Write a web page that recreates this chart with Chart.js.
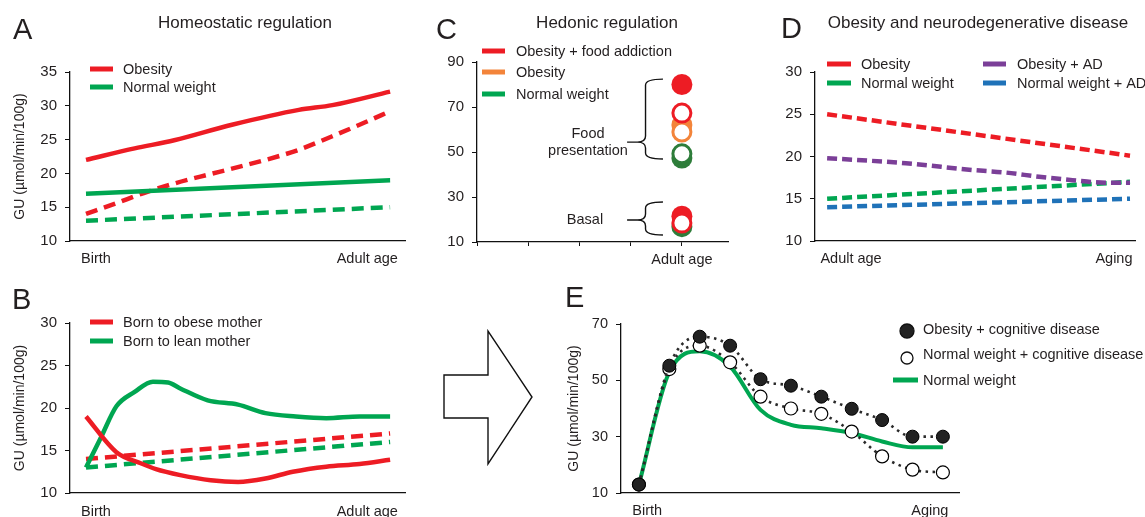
<!DOCTYPE html>
<html>
<head>
<meta charset="utf-8">
<script src="https://cdn.jsdelivr.net/npm/chart.js@4.4.1/dist/chart.umd.min.js"></script>
<style>
  body { margin: 0; background: #fff; font-family: 'Liberation Sans', Arial, sans-serif; color: #231f20; }
  #wrap { position: relative; width: 1145px; height: 517px; overflow: hidden; }
  canvas { position: absolute; }
  .letter { position: absolute; font-size: 29px; line-height: 1; }
  .title { position: absolute; font-size: 17px; line-height: 1; width: 360px; text-align: center; white-space: nowrap; }
  svg { position: absolute; left: 0; top: 0; }
</style>
</head>
<body>
<div id="wrap">
  <canvas id="chartA" width="410" height="270" style="left:0;top:0"></canvas>
  <canvas id="chartB" width="410" height="247" style="left:0;top:270px"></canvas>
  <canvas id="chartC" width="330" height="270" style="left:410px;top:0"></canvas>
  <canvas id="chartD" width="405" height="270" style="left:740px;top:0"></canvas>
  <canvas id="chartE" width="585" height="227" style="left:560px;top:290px"></canvas>

  <svg width="1145" height="517">
    <polygon points="444,375 488,375 488,331 532,397 488,464 488,418 444,418" fill="#fff" stroke="#111" stroke-width="1.4"/>
  </svg>

  <div class="letter" style="left:13px;top:15px">A</div>
  <div class="letter" style="left:12px;top:285px">B</div>
  <div class="letter" style="left:436px;top:15px">C</div>
  <div class="letter" style="left:781px;top:14px">D</div>
  <div class="letter" style="left:565px;top:283px">E</div>

  <div class="title" style="left:65px;top:14px">Homeostatic regulation</div>
  <div class="title" style="left:427px;top:14px">Hedonic regulation</div>
  <div class="title" style="left:798px;top:14px">Obesity and neurodegenerative disease</div>
</div>

<script>
// ---------- data ----------
// A: x 0 = birth, 1 = adult age
const aObesityX = [0, 0.16, 0.29, 0.48, 0.7, 0.81, 1];
const aObesityY = [22, 23.7, 24.9, 27.2, 29.4, 30.1, 32.1];
const aObesityDashX = [0, 0.1, 0.19, 0.29, 0.4, 0.48, 0.63, 0.7, 0.81, 0.92, 1];
const aObesityDashY = [14, 15.6, 17.1, 18.5, 19.8, 20.7, 22.5, 23.5, 25.5, 27.6, 29.2];
const aNormalX = [0, 1];
const aNormalY = [17, 19];
const aNormalDashY = [13, 15];
const abTickPos = [0.033, 0.925];
const abTickLabels = ['Birth', 'Adult age'];

// B
const bObeseMotherX = [0, 0.1, 0.18, 0.23, 0.31, 0.41, 0.5, 0.59, 0.68, 0.79, 0.9, 1];
const bObeseMotherY = [19, 14.8, 13.5, 12.8, 12.1, 11.5, 11.3, 11.7, 12.5, 13.1, 13.4, 13.9];
const bLeanMotherX = [0, 0.05, 0.1, 0.16, 0.22, 0.27, 0.31, 0.4, 0.5, 0.59, 0.69, 0.79, 0.9, 1];
const bLeanMotherY = [13, 16.6, 20.2, 21.9, 23.1, 23, 22.3, 20.9, 20.4, 19.4, 19, 18.8, 19, 19];
const bDashX = [0, 1];
const bObeseDashY = [14, 17];
const bLeanDashY = [13, 16];

// C: all markers sit at the "Adult age" position
const cTickPos = [0, 1, 2, 3, 4];
const cTickLabels = ['', '', '', '', 'Adult age'];
const cAdultAge = 4;
const cRedFilled = [80, 21.5];
const cRedHollow = [67.3, 18.4];
const cOrangeFilled = [62];
const cOrangeHollow = [58.9];
const cGreenFilled = [47.3, 16.8];
const cGreenHollow = [49.2];
const cFoodRange = [82.4, 54.4, 46.9];   // top, tip, bottom
const cBasalRange = [27.8, 19.8, 13.1];

// D: x 0 = adult age, 1 = aging
const dX = [0, 1];
const dObesityY = [25, 20.1];
const dNormalY = [15, 17];
const dObesityADX = [0, 0.26, 0.48, 0.59, 0.7, 0.81, 0.92, 1];
const dObesityADY = [19.8, 19.2, 18.4, 18.1, 17.6, 17.2, 16.9, 16.9];
const dNormalADY = [14, 15];
const dTickPos = [0.079, 0.947];
const dTickLabels = ['Adult age', 'Aging'];

// E: 11 time points from birth to aging
const eX = [0, 1, 2, 3, 4, 5, 6, 7, 8, 9, 10];
const eObesityCog = [13, 55.2, 65.5, 62.3, 50.4, 48.1, 44.2, 39.9, 35.9, 30, 30];
const eNormalCog = [13, 54, 62.3, 56.4, 44.2, 40, 38.1, 31.8, 23, 18.3, 17.3];
const eNormal = [13, 53, 60.3, 54.9, 39.5, 34.2, 33, 31.3, 28.3, 26.2, 26.2];
const eTickPos = [0.27, 9.57];
const eTickLabels = ['Birth', 'Aging'];

// ---------- colours ----------
const RED = '#ed1c24';
const GREEN = '#00a651';
const DARKGREEN = '#2e7d3a';
const ORANGE = '#f3843a';
const PURPLE = '#7b3f98';
const BLUE = '#1f72b8';
const INK = '#231f20';

Chart.defaults.font.family = "'Liberation Sans', Arial, sans-serif";
Chart.defaults.color = INK;
Chart.defaults.animation = false;
Chart.defaults.responsive = false;
Chart.defaults.devicePixelRatio = 1;
Chart.defaults.plugins.legend.display = false;
Chart.defaults.plugins.tooltip.enabled = false;

function pts(xs, ys) {
    return ys.map((y, i) => ({ x: xs[i], y: y }));
}

// legend drawn inside the plot, like the original figure
const miniLegend = {
    id: 'miniLegend',
    afterDraw(chart, args, opts) {
        if (!opts.items) return;
        const ctx = chart.ctx;
        ctx.save();
        ctx.font = opts.font;
        ctx.textBaseline = 'middle';
        opts.items.forEach(item => {
            if (item.kind === 'dot' || item.kind === 'ring') {
                ctx.beginPath();
                ctx.arc(item.x, item.my, item.r, 0, Math.PI * 2);
                ctx.fillStyle = item.kind === 'dot' ? '#222' : '#fff';
                ctx.fill();
                ctx.lineWidth = 1.3;
                ctx.strokeStyle = '#111';
                ctx.stroke();
            } else {
                ctx.beginPath();
                ctx.moveTo(item.x, item.y);
                ctx.lineTo(item.x + item.len, item.y);
                ctx.lineWidth = 5;
                ctx.strokeStyle = item.color;
                ctx.stroke();
            }
            ctx.fillStyle = INK;
            ctx.fillText(item.text, item.tx, item.y + 0.5);
        });
        ctx.restore();
    }
};

// curly braces of panel C
const braces = {
    id: 'braces',
    afterDraw(chart, args, opts) {
        if (!opts.items) return;
        const ctx = chart.ctx;
        const xs = chart.scales.x, ys = chart.scales.y;
        ctx.save();
        ctx.strokeStyle = '#111';
        ctx.lineWidth = 1.4;
        opts.items.forEach(b => {
            const top = ys.getPixelForValue(b.range[0]);
            const tip = ys.getPixelForValue(b.range[1]);
            const bot = ys.getPixelForValue(b.range[2]);
            const xv = xs.getPixelForValue(3.29);
            const xEnd = xs.getPixelForValue(3.63);
            const xTip = xs.getPixelForValue(2.93);
            ctx.beginPath();
            ctx.moveTo(xEnd, top);
            ctx.quadraticCurveTo(xv, top, xv, top + 6);
            ctx.lineTo(xv, tip - 6);
            ctx.quadraticCurveTo(xv, tip, xv - 8, tip);
            ctx.lineTo(xTip, tip);
            ctx.moveTo(xv - 8, tip);
            ctx.quadraticCurveTo(xv, tip, xv, tip + 6);
            ctx.lineTo(xv, bot - 6);
            ctx.quadraticCurveTo(xv, bot, xEnd, bot);
            ctx.stroke();
            ctx.fillStyle = INK;
            ctx.font = "14.5px 'Liberation Sans', Arial, sans-serif";
            ctx.textAlign = 'center';
            ctx.textBaseline = 'middle';
            b.label.forEach((line, i) => {
                ctx.fillText(line, b.labelX, tip - (b.label.length - 1) * 8.5 + i * 17);
            });
        });
        ctx.restore();
    }
};

Chart.register(miniLegend, braces);

// axes with fixed box sizes so every panel lands where it does in the figure
function makeScales(o) {
    return {
        x: {
            type: 'linear', min: o.xMin, max: o.xMax,
            afterBuildTicks: s => { s.ticks = o.xTicks.map(v => ({ value: v })); },
            afterFit: s => { s.height = o.xHeight; },
            ticks: {
                callback: (v, i) => o.xLabels[i],
                autoSkip: false, maxRotation: 0, padding: o.xPad,
                font: { size: o.xFont || 14.5 }, color: INK
            },
            grid: { drawOnChartArea: false, drawTicks: !!o.xTickMarks, tickLength: 4, tickColor: '#111' },
            border: { color: '#111', width: 1.3 }
        },
        y: {
            min: o.yMin, max: o.yMax,
            afterFit: s => { s.width = o.yWidth; },
            ticks: { stepSize: o.yStep, padding: 8, font: { size: o.yFont || 15 }, color: INK },
            grid: { drawOnChartArea: false, drawTicks: true, tickLength: 5, tickColor: '#111' },
            border: { color: '#111', width: 1.3 },
            title: {
                display: !!o.yTitle, text: o.yTitle,
                font: { size: 14 }, color: INK,
                padding: { top: o.yTitlePad || 0, bottom: 0 }
            }
        }
    };
}

function lineSet(data, color, dashed, extra) {
    return Object.assign({
        data: data,
        borderColor: color,
        borderWidth: 4.5,
        borderDash: dashed ? [12, 7] : [],
        pointRadius: 0,
        fill: false,
        clip: false,
        tension: 0.4,
        cubicInterpolationMode: 'monotone'
    }, extra || {});
}

// ---------- A ----------
new Chart(document.getElementById('chartA'), {
    type: 'line',
    data: {
        datasets: [
            lineSet(pts(aObesityX, aObesityY), RED, false),
            lineSet(pts(aNormalX, aNormalY), GREEN, false),
            lineSet(pts(aObesityDashX, aObesityDashY), RED, true),
            lineSet(pts(aNormalX, aNormalDashY), GREEN, true)
        ]
    },
    options: {
        layout: { padding: { left: 0, top: 72, right: 5, bottom: 0 } },
        scales: makeScales({
            xMin: -0.0526, xMax: 1.049, xTicks: abTickPos, xLabels: abTickLabels, xHeight: 29, xPad: 9,
            yMin: 10, yMax: 35, yStep: 5, yWidth: 70, yTitle: 'GU (µmol/min/100g)', yTitlePad: 11.6
        }),
        plugins: {
            miniLegend: {
                font: "14.5px 'Liberation Sans', Arial, sans-serif",
                items: [
                    { text: 'Obesity', color: RED, x: 90, len: 23, tx: 123, y: 69 },
                    { text: 'Normal weight', color: GREEN, x: 90, len: 23, tx: 123, y: 87 }
                ]
            }
        }
    }
});

// ---------- B ----------
new Chart(document.getElementById('chartB'), {
    type: 'line',
    data: {
        datasets: [
            lineSet(pts(bObeseMotherX, bObeseMotherY), RED, false),
            lineSet(pts(bLeanMotherX, bLeanMotherY), GREEN, false),
            lineSet(pts(bDashX, bObeseDashY), RED, true),
            lineSet(pts(bDashX, bLeanDashY), GREEN, true)
        ]
    },
    options: {
        layout: { padding: { left: 0, top: 53, right: 5, bottom: 0 } },
        scales: makeScales({
            xMin: -0.0526, xMax: 1.049, xTicks: abTickPos, xLabels: abTickLabels, xHeight: 24, xPad: 10,
            yMin: 10, yMax: 30, yStep: 5, yWidth: 70, yTitle: 'GU (µmol/min/100g)', yTitlePad: 11.6
        }),
        plugins: {
            miniLegend: {
                font: "14.5px 'Liberation Sans', Arial, sans-serif",
                items: [
                    { text: 'Born to obese mother', color: RED, x: 90, len: 23, tx: 123, y: 52 },
                    { text: 'Born to lean mother', color: GREEN, x: 90, len: 23, tx: 123, y: 71 }
                ]
            }
        }
    }
});

// ---------- C ----------
function markerSet(ys, color, hollow) {
    return {
        data: ys.map(y => ({ x: cAdultAge, y: y })),
        backgroundColor: hollow ? '#fff' : color,
        borderColor: color,
        borderWidth: hollow ? 3 : 0,
        pointRadius: hollow ? 9 : 10.5,
        clip: false
    };
}

new Chart(document.getElementById('chartC'), {
    type: 'scatter',
    data: {
        datasets: [
            markerSet(cRedHollow, RED, true),
            markerSet(cOrangeHollow, ORANGE, true),
            markerSet(cGreenHollow, DARKGREEN, true),
            markerSet(cRedFilled, RED, false),
            markerSet(cOrangeFilled, ORANGE, false),
            markerSet(cGreenFilled, DARKGREEN, false)
        ]
    },
    options: {
        layout: { padding: { left: 0, top: 62, right: 2, bottom: 0 } },
        scales: makeScales({
            xMin: 0, xMax: 4.9, xTicks: cTickPos, xLabels: cTickLabels, xHeight: 28, xPad: 5, xTickMarks: true,
            yMin: 10, yMax: 90, yStep: 20, yWidth: 67
        }),
        plugins: {
            miniLegend: {
                font: "14.5px 'Liberation Sans', Arial, sans-serif",
                items: [
                    { text: 'Obesity + food addiction', color: RED, x: 72, len: 23, tx: 106, y: 51 },
                    { text: 'Obesity', color: ORANGE, x: 72, len: 23, tx: 106, y: 72 },
                    { text: 'Normal weight', color: GREEN, x: 72, len: 23, tx: 106, y: 94 }
                ]
            },
            braces: {
                items: [
                    { range: cFoodRange, label: ['Food', 'presentation'], labelX: 178 },
                    { range: cBasalRange, label: ['Basal'], labelX: 175 }
                ]
            }
        }
    }
});

// ---------- D ----------
function dashD(data, color) {
    return lineSet(data, color, true, { borderDash: [10, 5], borderWidth: 4.5 });
}

new Chart(document.getElementById('chartD'), {
    type: 'line',
    data: {
        datasets: [
            dashD(pts(dX, dObesityY), RED),
            dashD(pts(dObesityADX, dObesityADY), PURPLE),
            dashD(pts(dX, dNormalY), GREEN),
            dashD(pts(dX, dNormalADY), BLUE)
        ]
    },
    options: {
        layout: { padding: { left: 0, top: 72, right: 10, bottom: 0 } },
        scales: makeScales({
            xMin: -0.04, xMax: 1.0165, xTicks: dTickPos, xLabels: dTickLabels, xHeight: 29, xPad: 9,
            yMin: 10, yMax: 30, yStep: 5, yWidth: 75
        }),
        plugins: {
            miniLegend: {
                font: "14.5px 'Liberation Sans', Arial, sans-serif",
                items: [
                    { text: 'Obesity', color: RED, x: 87, len: 24, tx: 121, y: 64 },
                    { text: 'Normal weight', color: GREEN, x: 87, len: 24, tx: 121, y: 83 },
                    { text: 'Obesity + AD', color: PURPLE, x: 243, len: 23, tx: 277, y: 64 },
                    { text: 'Normal weight + AD', color: BLUE, x: 243, len: 23, tx: 277, y: 83 }
                ]
            }
        }
    }
});

// ---------- E ----------
new Chart(document.getElementById('chartE'), {
    type: 'line',
    data: {
        datasets: [
            {
                data: pts(eX, eObesityCog),
                borderColor: '#2a2a2a', borderWidth: 2.6, borderDash: [2.5, 4.5],
                pointRadius: 6.5, pointBackgroundColor: '#222', pointBorderColor: '#000', pointBorderWidth: 1,
                tension: 0.35, cubicInterpolationMode: 'monotone', clip: false
            },
            {
                data: pts(eX, eNormalCog),
                borderColor: '#2a2a2a', borderWidth: 2.6, borderDash: [2.5, 4.5],
                pointRadius: 6.5, pointBackgroundColor: '#fff', pointBorderColor: '#000', pointBorderWidth: 1.2,
                tension: 0.35, cubicInterpolationMode: 'monotone', clip: false
            },
            lineSet(pts(eX, eNormal), GREEN, false, { borderWidth: 4 })
        ]
    },
    options: {
        layout: { padding: { left: 0, top: 34, right: 186, bottom: 0 } },
        scales: makeScales({
            xMin: -0.59, xMax: 10.53, xTicks: eTickPos, xLabels: eTickLabels, xHeight: 24, xPad: 9, xFont: 14.5,
            yMin: 10, yMax: 70, yStep: 20, yWidth: 61, yFont: 14.5, yTitle: 'GU (µmol/min/100g)', yTitlePad: 5.6
        }),
        plugins: {
            miniLegend: {
                font: "14.5px 'Liberation Sans', Arial, sans-serif",
                items: [
                    { text: 'Obesity + cognitive disease', kind: 'dot', r: 7, x: 347, my: 41, tx: 363, y: 39 },
                    { text: 'Normal weight + cognitive disease', kind: 'ring', r: 6, x: 347, my: 68, tx: 363, y: 64 },
                    { text: 'Normal weight', color: GREEN, x: 333, len: 25, tx: 363, y: 90 }
                ]
            }
        }
    }
});
</script>
</body>
</html>
